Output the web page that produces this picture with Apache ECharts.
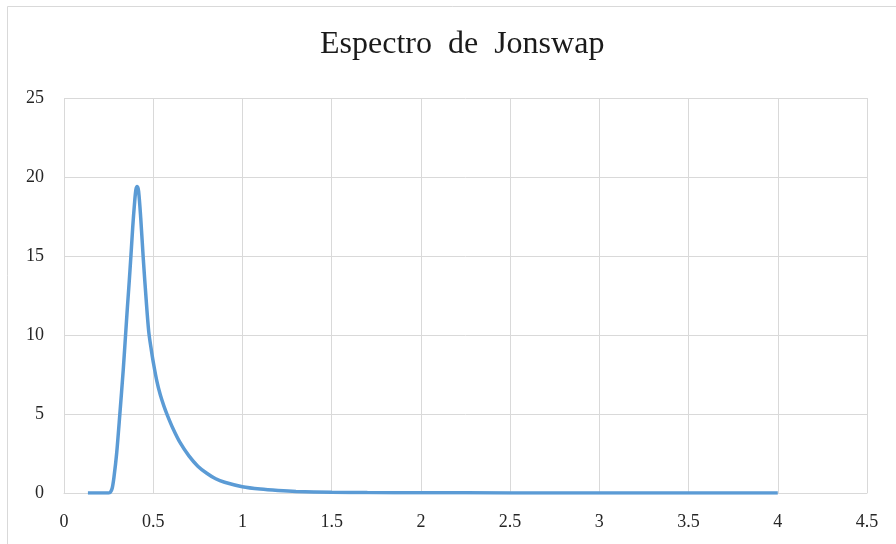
<!DOCTYPE html>
<html>
<head>
<meta charset="utf-8">
<script src="https://cdn.jsdelivr.net/npm/echarts@6/dist/echarts.min.js"></script>
<style>html,body{margin:0;padding:0;background:#fff}#c{width:896px;height:544px}</style>
</head>
<body>
<div id="c"></div>
<script>
const titleText = 'Espectro  de  Jonswap';
const xValues = [0.134, 0.2, 0.25, 0.26, 0.27, 0.28, 0.295, 0.313, 0.332, 0.345, 0.355, 0.365, 0.375, 0.385, 0.395, 0.403, 0.41, 0.418, 0.43, 0.445, 0.46, 0.475, 0.49, 0.5, 0.52, 0.54, 0.56, 0.58, 0.61, 0.65, 0.7, 0.75, 0.8, 0.85, 0.9, 1.0, 1.1, 1.2, 1.3, 1.5, 1.7, 2.0, 2.5, 3.0, 3.5, 4.0];
const yValues = [0, 0, 0, 0.05, 0.3, 1.0, 2.5, 5.0, 7.8, 10.0, 11.7, 13.3, 15.0, 16.8, 18.3, 19.2, 19.4, 19.1, 17.4, 14.7, 12.3, 10.2, 9.0, 8.3, 7.1, 6.2, 5.5, 4.9, 4.1, 3.2, 2.35, 1.7, 1.25, 0.9, 0.68, 0.4, 0.25, 0.16, 0.1, 0.05, 0.03, 0.015, 0.006, 0.003, 0.002, 0.001];

const chart = echarts.init(document.getElementById('c'));
const font = 'Liberation Serif';
chart.setOption({
  animation: false,
  backgroundColor: '#fff',
  graphic: [{
    type: 'rect', shape: {x: 7.5, y: 6.5, width: 1000, height: 1000},
    style: {fill: 'none', stroke: '#d9d9d9', lineWidth: 1}, silent: true
  }],
  title: {
    text: titleText, left: 315, top: 24,
    textStyle: {fontFamily: font, fontSize: 32, fontWeight: 'normal', color: '#1a1a1a'}
  },
  grid: {left: 64, right: 29, top: 98, bottom: 51},
  xAxis: {
    type: 'value', min: 0, max: 4.5, interval: 0.5,
    axisLine: {show: true, lineStyle: {color: '#d9d9d9'}},
    axisTick: {show: false},
    splitLine: {show: true, lineStyle: {color: '#d9d9d9'}},
    axisLabel: {fontFamily: font, fontSize: 18, color: '#262626', margin: 20}
  },
  yAxis: {
    type: 'value', min: 0, max: 25, interval: 5,
    axisLine: {show: false},
    axisTick: {show: false},
    splitLine: {show: true, lineStyle: {color: '#d9d9d9'}},
    axisLabel: {fontFamily: font, fontSize: 18, color: '#262626', margin: 20}
  },
  series: [{
    type: 'line',
    data: xValues.map((x, i) => [x, yValues[i]]),
    smooth: 0.3,
    showSymbol: false,
    lineStyle: {color: '#5B9BD5', width: 3.5}
  }]
});
</script>
</body>
</html>
